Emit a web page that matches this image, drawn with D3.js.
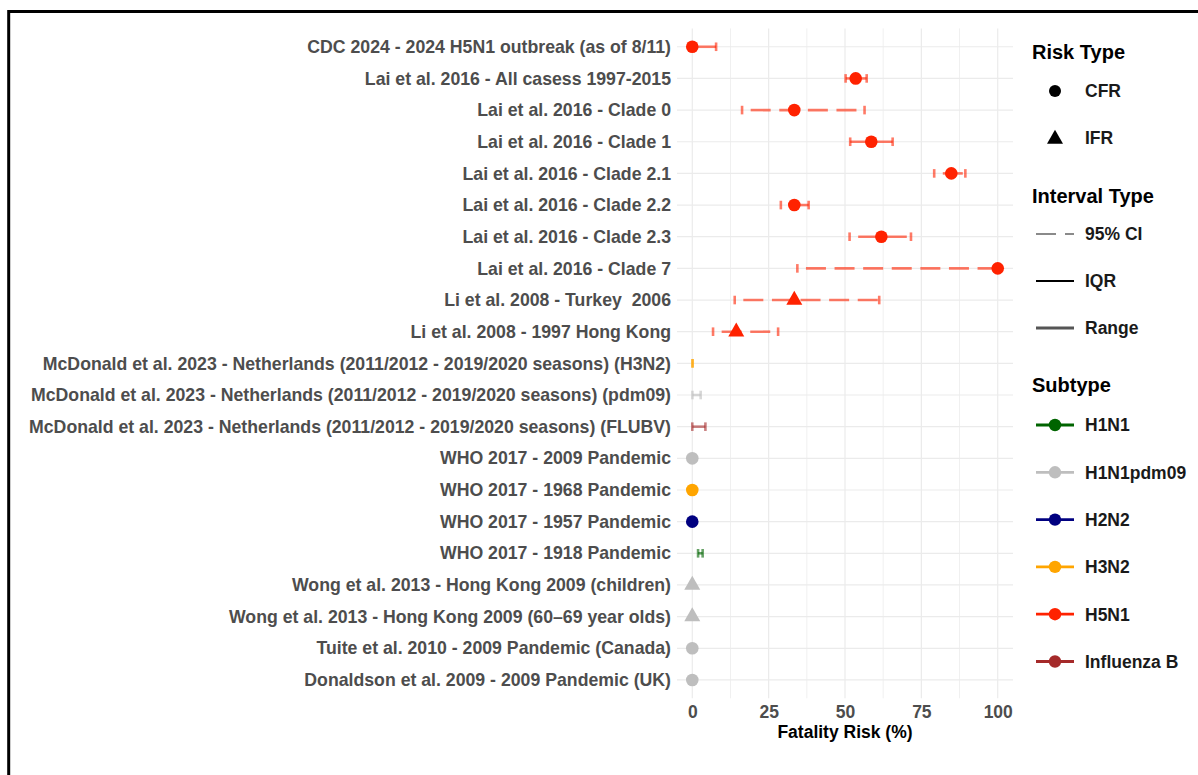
<!DOCTYPE html>
<html>
<head>
<meta charset="utf-8">
<script src="https://cdn.jsdelivr.net/npm/d3@7"></script>
<style>
  html, body { margin: 0; padding: 0; background: #fff; }
  text { font-family: "Liberation Sans", Arial, sans-serif; font-weight: bold; white-space: pre; }
</style>
</head>
<body>
<svg id="chart" width="1198" height="775"></svg>
<script>
// ---------------- data ----------------
const studies = [
  "CDC 2024 - 2024 H5N1 outbreak (as of 8/11)",
  "Lai et al. 2016 - All casess 1997-2015",
  "Lai et al. 2016 - Clade 0",
  "Lai et al. 2016 - Clade 1",
  "Lai et al. 2016 - Clade 2.1",
  "Lai et al. 2016 - Clade 2.2",
  "Lai et al. 2016 - Clade 2.3",
  "Lai et al. 2016 - Clade 7",
  "Li et al. 2008 - Turkey  2006",
  "Li et al. 2008 - 1997 Hong Kong",
  "McDonald et al. 2023 - Netherlands (2011/2012 - 2019/2020 seasons) (H3N2)",
  "McDonald et al. 2023 - Netherlands (2011/2012 - 2019/2020 seasons) (pdm09)",
  "McDonald et al. 2023 - Netherlands (2011/2012 - 2019/2020 seasons) (FLUBV)",
  "WHO 2017 - 2009 Pandemic",
  "WHO 2017 - 1968 Pandemic",
  "WHO 2017 - 1957 Pandemic",
  "WHO 2017 - 1918 Pandemic",
  "Wong et al. 2013 - Hong Kong 2009 (children)",
  "Wong et al. 2013 - Hong Kong 2009 (60\u201369 year olds)",
  "Tuite et al. 2010 - 2009 Pandemic (Canada)",
  "Donaldson et al. 2009 - 2009 Pandemic (UK)"
];
const subtypeOf = ["H5N1","H5N1","H5N1","H5N1","H5N1","H5N1","H5N1","H5N1","H5N1","H5N1",
  "H3N2","H1N1pdm09","Influenza B","H1N1pdm09","H3N2","H2N2","H1N1",
  "H1N1pdm09","H1N1pdm09","H1N1pdm09","H1N1pdm09"];
const riskTypeOf = ["CFR","CFR","CFR","CFR","CFR","CFR","CFR","CFR","IFR","IFR",
  "CFR","CFR","CFR","CFR","CFR","CFR","CFR","IFR","IFR","CFR","CFR"];
const estimate = [0, 53.5, 33.4, 58.6, 84.8, 33.4, 61.9, 100, 33.4, 14.4,
  null, null, null, 0, 0, 0, null, 0, 0, 0, 0];
const lower = [0, 50.2, 16.3, 51.7, 79.2, 29.0, 51.5, 34.4, 13.9, 6.8,
  0.02, 0.05, 0, null, null, null, 1.9, null, null, null, null];
const upper = [7.8, 57.1, 56.4, 65.6, 89.4, 38.1, 71.6, 100, 61.2, 28.1,
  0.15, 2.75, 4.3, null, null, null, 3.4, null, null, null, null];
const intervalTypeOf = ["Range","IQR","95% CI","IQR","95% CI","95% CI","95% CI","95% CI","95% CI","95% CI",
  "Range","Range","Range",null,null,null,"Range",null,null,null,null];

const xTicks = [0, 25, 50, 75, 100];
const xMinor = [12.5, 37.5, 62.5, 87.5];
const riskTypes = ["CFR", "IFR"];
const intervalTypes = ["95% CI", "IQR", "Range"];
const subtypes = ["H1N1", "H1N1pdm09", "H2N2", "H3N2", "H5N1", "Influenza B"];
const subtypeColors = ["#006400", "#bebebe", "#000080", "#ffa500", "#ff2200", "#a52a2a"];

const rows = studies.map((s, i) => ({
  study: s, subtype: subtypeOf[i], risk: riskTypeOf[i], est: estimate[i],
  lo: lower[i], hi: upper[i], itype: intervalTypeOf[i]
}));

// ---------------- layout ----------------
const svg = d3.select("#chart");
const panel = { left: 677, right: 1013, top: 28.4, bottom: 698.3 };

const x = d3.scaleLinear().domain([-5, 105]).range([panel.left, panel.right]);
const y = d3.scalePoint().domain(studies).range([panel.top, panel.bottom]).padding(0.58);
const color = d3.scaleOrdinal().domain(subtypes).range(subtypeColors);

// outer frame
svg.append("rect").attr("x", 8.7).attr("y", 11.5).attr("width", 1400).attr("height", 1000)
  .attr("fill", "none").attr("stroke", "#000").attr("stroke-width", 3);

// grid
const grid = svg.append("g");
grid.selectAll("line.minor").data(xMinor).join("line")
  .attr("x1", d => x(d)).attr("x2", d => x(d))
  .attr("y1", panel.top).attr("y2", panel.bottom)
  .attr("stroke", "#f0f0f0").attr("stroke-width", 1);
grid.selectAll("line.major").data(xTicks).join("line")
  .attr("x1", d => x(d)).attr("x2", d => x(d))
  .attr("y1", panel.top).attr("y2", panel.bottom)
  .attr("stroke", "#ebebeb").attr("stroke-width", 1.2);
grid.selectAll("line.h").data(studies).join("line")
  .attr("x1", panel.left).attr("x2", panel.right)
  .attr("y1", d => y(d)).attr("y2", d => y(d))
  .attr("stroke", "#ebebeb").attr("stroke-width", 1.2);

// y axis labels
const yAxis = d3.axisLeft(y).tickSize(0).tickPadding(6);
const yg = svg.append("g").attr("transform", `translate(${panel.left},0)`).call(yAxis);
yg.select(".domain").remove();
yg.selectAll("text").attr("fill", "#4d4d4d").style("font-size", "17.7px")
  .style("font-family", "'Liberation Sans', Arial, sans-serif").style("font-weight", "bold")
  .style("white-space", "pre");

// x axis
const xAxis = d3.axisBottom(x).tickValues(xTicks).tickSize(0).tickPadding(7).tickFormat(d3.format("d"));
const xg = svg.append("g").attr("transform", `translate(0,${panel.bottom})`).call(xAxis);
xg.select(".domain").remove();
xg.selectAll("text").attr("fill", "#4d4d4d").style("font-size", "17.5px")
  .style("font-family", "'Liberation Sans', Arial, sans-serif").style("font-weight", "bold");

svg.append("text").attr("x", (panel.left + panel.right) / 2).attr("y", 738)
  .attr("text-anchor", "middle").attr("fill", "#000").style("font-size", "17.5px")
  .text("Fatality Risk (%)");

// intervals
const capH = 4.3;
const ig = svg.append("g");
rows.filter(r => r.lo != null).forEach(r => {
  const c = color(r.subtype);
  const yy = y(r.study);
  const g = ig.append("g").attr("stroke", c).attr("stroke-opacity", 0.6).attr("stroke-width", 2.6).attr("fill", "none");
  const ln = g.append("line").attr("x1", x(r.lo)).attr("x2", x(r.hi)).attr("y1", yy).attr("y2", yy);
  if (r.itype === "95% CI") ln.attr("stroke-dasharray", "20,8.6").attr("stroke-dashoffset", 20);
  [r.lo, r.hi].forEach(v => {
    g.append("line").attr("x1", x(v)).attr("x2", x(v)).attr("y1", yy - capH).attr("y2", yy + capH);
  });
});

// points
const triPath = "M0,-9.3L8,4.7L-8,4.7Z";
const pg = svg.append("g");
rows.filter(r => r.est != null).forEach(r => {
  const c = color(r.subtype);
  const cx = x(r.est), cy = y(r.study);
  if (r.risk === "CFR") {
    pg.append("circle").attr("cx", cx).attr("cy", cy).attr("r", 6.3).attr("fill", c);
  } else {
    pg.append("path").attr("d", triPath).attr("transform", `translate(${cx},${cy})`).attr("fill", c);
  }
});

// ---------------- legends ----------------
const lg = svg.append("g");
const legX = 1032, keyX = 1055, txtX = 1085;
function title(t, yb) {
  lg.append("text").attr("x", legX).attr("y", yb).attr("fill", "#000").style("font-size", "20px").text(t);
}
function label(t, yc) {
  lg.append("text").attr("x", txtX).attr("y", yc + 6.3).attr("fill", "#1a1a1a").style("font-size", "17.5px").text(t);
}
title("Risk Type", 59);
riskTypes.forEach((t, i) => {
  const yc = 91 + i * 47;
  if (t === "CFR") lg.append("circle").attr("cx", keyX).attr("cy", yc).attr("r", 6).attr("fill", "#000");
  else lg.append("path").attr("d", triPath).attr("transform", `translate(${keyX},${yc + 1})`).attr("fill", "#000");
  label(t, yc);
});

title("Interval Type", 203);
const itStyle = {
  "95% CI": { stroke: "#8a8a8a", w: 2, dash: "20,9" },
  "IQR": { stroke: "#000", w: 2, dash: null },
  "Range": { stroke: "#555", w: 2.8, dash: null }
};
intervalTypes.forEach((t, i) => {
  const yc = 234 + i * 47;
  const s = itStyle[t];
  const l = lg.append("line").attr("x1", 1036).attr("x2", 1074).attr("y1", yc).attr("y2", yc)
    .attr("stroke", s.stroke).attr("stroke-width", s.w);
  if (s.dash) l.attr("stroke-dasharray", s.dash);
  label(t, yc);
});

title("Subtype", 392);
subtypes.forEach((t, i) => {
  const yc = 425 + i * 47.3;
  lg.append("line").attr("x1", 1036).attr("x2", 1074).attr("y1", yc).attr("y2", yc)
    .attr("stroke", color(t)).attr("stroke-width", 2.8);
  lg.append("circle").attr("cx", keyX).attr("cy", yc).attr("r", 6.2).attr("fill", color(t));
  label(t, yc);
});
</script>
</body>
</html>
